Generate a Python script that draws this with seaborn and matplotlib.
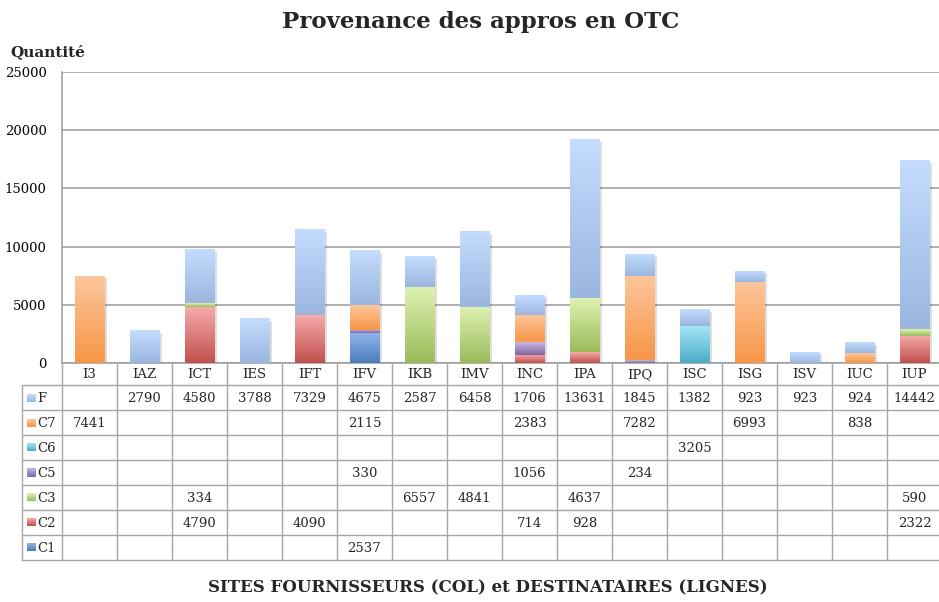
import numpy as np
import pandas as pd
import matplotlib
matplotlib.use("Agg")
import matplotlib.pyplot as plt
import matplotlib.patheffects as pe
from matplotlib.colors import LinearSegmentedColormap
import seaborn as sns

# Supplier sites (columns) and source categories (rows), stacked bottom -> top
sites = ["I3", "IAZ", "ICT", "IES", "IFT", "IFV", "IKB", "IMV",
         "INC", "IPA", "IPQ", "ISC", "ISG", "ISV", "IUC", "IUP"]
series_names = ["C1", "C2", "C3", "C5", "C6", "C7", "F"]

C1 = [None, None, None, None, None, 2537, None, None, None, None, None, None, None, None, None, None]
C2 = [None, None, 4790, None, 4090, None, None, None, 714, 928, None, None, None, None, None, 2322]
C3 = [None, None, 334, None, None, None, 6557, 4841, None, 4637, None, None, None, None, None, 590]
C5 = [None, None, None, None, None, 330, None, None, 1056, None, 234, None, None, None, None, None]
C6 = [None, None, None, None, None, None, None, None, None, None, None, 3205, None, None, None, None]
C7 = [7441, None, None, None, None, 2115, None, None, 2383, None, 7282, None, 6993, None, 838, None]
F = [None, 2790, 4580, 3788, 7329, 4675, 2587, 6458, 1706, 13631, 1845, 1382, 923, 923, 924, 14442]

series = {"C1": C1, "C2": C2, "C3": C3, "C5": C5, "C6": C6, "C7": C7, "F": F}

# (bottom colour, top colour) of the vertical gradient of each series
palette = {
    "C1": ("#4a7dbb", "#8fb5ea"),
    "C2": ("#c0504d", "#f6abaa"),
    "C3": ("#9bbb59", "#def2b3"),
    "C5": ("#8064a2", "#c9b8e2"),
    "C6": ("#4bacc6", "#a6e6f8"),
    "C7": ("#f79646", "#fdc69c"),
    "F":  ("#9bb6de", "#c4dcff"),
}

sns.set_theme(style="white")
plt.rcParams["font.family"] = ["DejaVu Serif"]

W, H = 939, 602
fig = plt.figure(figsize=(W / 100, H / 100), dpi=100)

col_w = 55.0
left_px, top_px, zero_px = 62, 72, 363
ax = fig.add_axes([left_px / W, (H - zero_px) / H, 16 * col_w / W, (zero_px - top_px) / H])

df = pd.DataFrame({k: [0 if v is None else v for v in vals] for k, vals in series.items()})
df.insert(0, "site", sites)
cum = df[series_names].cumsum(axis=1)

bar_w = 0.53
# Cumulative bars drawn from the tallest down, so each stack level stays visible
for i, name in enumerate(reversed(series_names)):
    kw = {}
    if name == "F":
        kw["path_effects"] = [pe.SimplePatchShadow(offset=(2, -1.5), shadow_rgbFace="#000000", alpha=0.13),
                              pe.Normal()]
    sns.barplot(x=sites, y=cum[name].values, order=sites, color=palette[name][0],
                width=bar_w, linewidth=0, saturation=1, ax=ax, zorder=2, **kw)

# Vertical gradient on each stacked segment
grad = np.linspace(0, 1, 256).reshape(-1, 1)
prev = np.zeros(len(sites))
for name in series_names:
    top = cum[name].values
    cmap = LinearSegmentedColormap.from_list(name, [palette[name][0], palette[name][1]])
    for j in range(len(sites)):
        if top[j] > prev[j]:
            ax.imshow(grad, cmap=cmap, origin="lower", aspect="auto", interpolation="bilinear",
                      extent=[j - bar_w / 2, j + bar_w / 2, prev[j], top[j]], zorder=3)
    prev = top.astype(float)

ax.set_xlim(-0.5, len(sites) - 0.5)
ax.set_ylim(0, 25000)
ax.set_yticks(np.arange(0, 25001, 5000))
ax.set_yticklabels([str(v) for v in range(0, 25001, 5000)], fontsize=9.5, color="#000000")
ax.tick_params(axis="y", length=0, pad=11)
ax.tick_params(axis="x", length=0, labelbottom=False)
ax.set_xlabel("")
ax.grid(axis="y", color="#9a9a9a", linewidth=1.1, zorder=0)
ax.set_axisbelow(True)
for s in ["top", "right"]:
    ax.spines[s].set_visible(False)
ax.spines["left"].set_color("#9a9a9a")
ax.spines["bottom"].set_color("#9a9a9a")
ax.spines["left"].set_linewidth(1.1)
ax.spines["bottom"].set_linewidth(1.1)

# Data table below the chart
tab_bottom_px = 560
tax = fig.add_axes([left_px / W, (H - tab_bottom_px) / H, 16 * col_w / W, (tab_bottom_px - zero_px) / H])
tax.set_xlim(-0.5, len(sites) - 0.5)
tax.set_ylim(tab_bottom_px - zero_px, 0)
tax.axis("off")

line_c = "#a6a6a6"
leg_left = -0.5 - (left_px - 22) / col_w
header_h, row_h = 22, 25
n_rows = len(series_names)
tab_h = header_h + n_rows * row_h
# vertical lines
for k in range(len(sites) + 1):
    tax.plot([k - 0.5, k - 0.5], [0, tab_h], color=line_c, lw=1, clip_on=False)
tax.plot([leg_left, leg_left], [header_h, tab_h], color=line_c, lw=1, clip_on=False)
# horizontal lines
for r in range(n_rows + 1):
    y = header_h + r * row_h
    tax.plot([leg_left, len(sites) - 0.5], [y, y], color=line_c, lw=1, clip_on=False)

for j, s in enumerate(sites):
    tax.text(j, header_h / 2 + 1, s, ha="center", va="center", fontsize=9.5, clip_on=False)

for r, name in enumerate(reversed(series_names)):
    yc = header_h + r * row_h + row_h / 2
    sq = 8 / col_w
    tax.imshow(grad[::-1], cmap=LinearSegmentedColormap.from_list("l" + name, [palette[name][0], palette[name][1]]),
               aspect="auto", extent=[leg_left + 5 / col_w, leg_left + 5 / col_w + sq, yc + 4, yc - 4],
               origin="upper", clip_on=False, zorder=3)
    tax.text(leg_left + 15 / col_w, yc + 1, name, ha="left", va="center", fontsize=9.5, clip_on=False)
    for j, v in enumerate(series[name]):
        if v is not None:
            tax.text(j, yc + 1, str(v), ha="center", va="center", fontsize=9.5, clip_on=False)
tax.set_xlim(-0.5, len(sites) - 0.5)
tax.set_ylim(tab_bottom_px - zero_px, 0)

fig.text(481 / W, 1 - 22 / H, "Provenance des appros en OTC", ha="center", va="center",
         fontsize=16.5, fontweight="bold")
fig.text(10 / W, 1 - 52 / H, "Quantité", ha="left", va="center", fontsize=11, fontweight="bold")
fig.text(488 / W, 1 - 588 / H, "SITES FOURNISSEURS (COL) et DESTINATAIRES (LIGNES)",
         ha="center", va="center", fontsize=12, fontweight="bold")

fig.savefig("out.png", dpi=100)
